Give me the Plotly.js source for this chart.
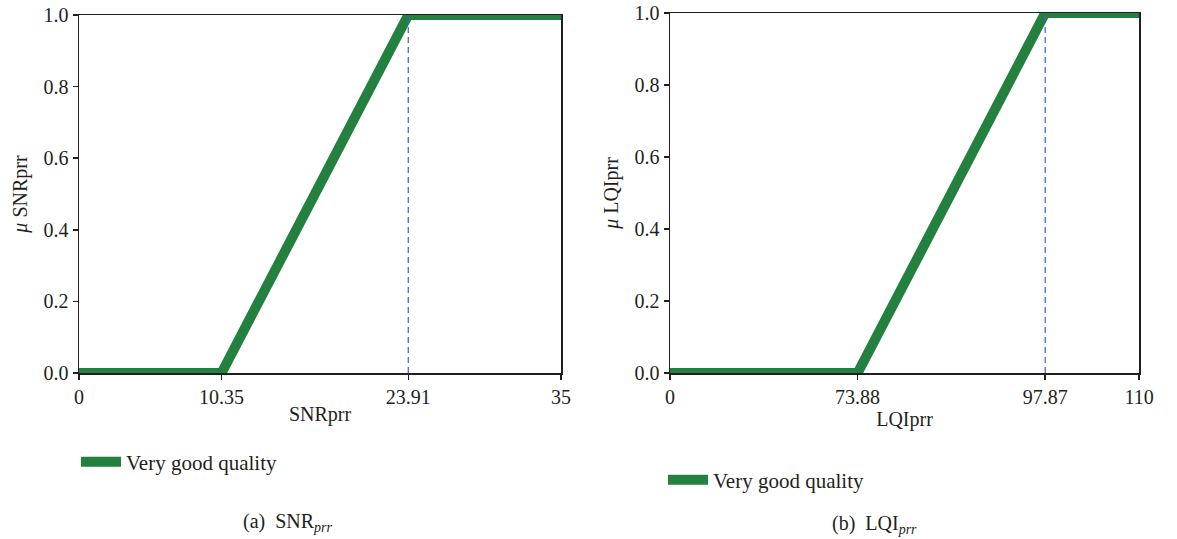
<!DOCTYPE html>
<html><head><meta charset="utf-8">
<script src="https://cdn.plot.ly/plotly-3.0.1.min.js"></script>
<style>html,body{margin:0;padding:0;background:#fff}#c{width:1177px;height:539px}</style>
</head><body><div id="c"></div>
<script>
// Panel (a) SNR
const snrX = [0, 10.35, 23.91, 35];
const snrY = [0, 0, 1, 1];
const snrRefX = [23.91, 23.91];
const snrRefY = [0, 1];
const snrTicks = [0, 10.35, 23.91, 35];
const snrTickText = ['0', '10.35', '23.91', '35'];
// Panel (b) LQI -- the original axis is not linear: its labelled ticks sit at these relative slots
const lqiX = [0, 73.88, 97.87, 110];
const lqiY = [0, 0, 1, 1];
const lqiRefX = [97.87, 97.87];
const lqiRefY = [0, 1];
const lqiTicks = [0, 73.88, 97.87, 110];
const lqiTickSlots = [0, 2, 4, 5];
const lqiTickText = ['0', '73.88', '97.87', '110'];
const yTicks = [0, 0.2, 0.4, 0.6, 0.8, 1.0];
const seriesName = 'Very good quality';

// piecewise-linear map from LQI value to the axis slot used by the original figure
function lqiPos(v) {
  for (let i = 0; i < lqiTicks.length - 1; i++) {
    const a = lqiTicks[i], b = lqiTicks[i + 1];
    if (v <= b || i === lqiTicks.length - 2) {
      return lqiTickSlots[i] + (v - a) / (b - a) * (lqiTickSlots[i + 1] - lqiTickSlots[i]);
    }
  }
}

const green = '#23803f';
const blue = '#3f5fc4';
const fam = '"Liberation Serif", "DejaVu Serif", serif';
const ink = '#231f20';
const font = {family: fam, size: 20, color: ink};

const traces = [
  {x: snrX, y: snrY, mode: 'lines', name: seriesName, line: {color: green, width: 10}, xaxis: 'x', yaxis: 'y', legend: 'legend'},
  {x: snrRefX, y: snrRefY, mode: 'lines', showlegend: false, line: {color: blue, width: 1.2, dash: '6px,4px'}, xaxis: 'x', yaxis: 'y'},
  {x: lqiX.map(lqiPos), y: lqiY, mode: 'lines', name: seriesName, line: {color: green, width: 10}, xaxis: 'x2', yaxis: 'y2', legend: 'legend2'},
  {x: lqiRefX.map(lqiPos), y: lqiRefY, mode: 'lines', showlegend: false, line: {color: blue, width: 1.2, dash: '6px,4px'}, xaxis: 'x2', yaxis: 'y2'}
];

const W = 1177, H = 539;
const px = v => v / W, py = v => 1 - v / H;

function xax(domain, ticks, text, range, title, anchor) {
  return {domain: domain, range: range, tickvals: ticks, ticktext: text, showgrid: false, zeroline: false,
    showline: true, mirror: true, linecolor: ink, linewidth: 1.5, ticks: 'outside', ticklen: 5,
    tickcolor: ink, tickwidth: 1.5, tickfont: font, anchor: anchor,
    title: {text: title, font: font, standoff: 0}};
}
function yax(domain, title, anchor) {
  return {domain: domain, range: [0, 1], tickvals: yTicks, tickformat: '.1f', showgrid: false, zeroline: false,
    showline: true, mirror: true, linecolor: ink, linewidth: 1.5, ticks: 'outside', ticklen: 5,
    tickcolor: ink, tickwidth: 1.5, tickfont: font, anchor: anchor,
    title: {text: title, font: font, standoff: 10}};
}

const legendBase = {orientation: 'v', font: {family: fam, size: 21, color: ink}, bgcolor: 'rgba(0,0,0,0)',
  xanchor: 'left', yanchor: 'middle', itemwidth: 40, tracegroupgap: 0};

const layout = {
  width: W, height: H,
  margin: {l: 0, r: 0, t: 0, b: 0},
  paper_bgcolor: '#fff', plot_bgcolor: '#fff',
  showlegend: true,
  xaxis: xax([px(79), px(561)], snrTicks, snrTickText, [0, 35], 'SNRprr', 'y'),
  yaxis: yax([py(373), py(15)], '<i>μ</i> SNRprr', 'x'),
  xaxis2: xax([px(670), px(1139)], lqiTickSlots, lqiTickText, [0, 5], 'LQIprr', 'y2'),
  yaxis2: yax([py(373), py(13)], '<i>μ</i> LQIprr', 'x2'),
  legend: Object.assign({}, legendBase, {x: px(76), y: py(462)}),
  legend2: Object.assign({}, legendBase, {x: px(663), y: py(480)}),
  annotations: [
    {xref: 'paper', yref: 'paper', x: px(288), y: py(522), xanchor: 'center', yanchor: 'middle',
      text: '(a)  SNR<sub><i>prr</i></sub>', showarrow: false, font: font},
    {xref: 'paper', yref: 'paper', x: px(874), y: py(524), xanchor: 'center', yanchor: 'middle',
      text: '(b)  LQI<sub><i>prr</i></sub>', showarrow: false, font: font}
  ]
};

Plotly.newPlot('c', traces, layout, {displayModeBar: false, staticPlot: true});
</script></body></html>
